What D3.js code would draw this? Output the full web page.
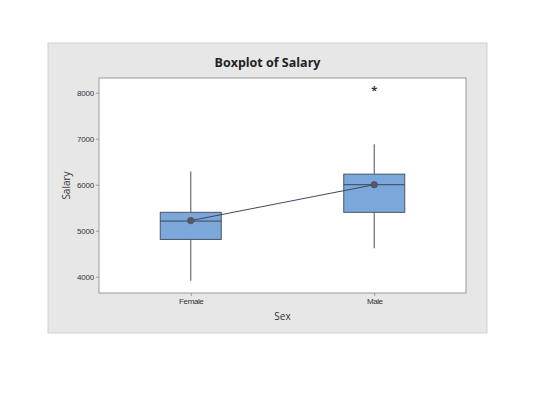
<!DOCTYPE html>
<html>
<head>
<meta charset="utf-8">
<script src="https://cdn.jsdelivr.net/npm/d3@7"></script>
<style>
  html, body { margin: 0; padding: 0; background: #ffffff; }
  svg { display: block; font-family: "Open Sans", "DejaVu Sans", sans-serif; }
</style>
</head>
<body>
<div id="chart"></div>
<script>
(function () {
    'use strict';

    // values
    const categories = ["Female", "Male"];
    const whiskerLow = [3910, 4620];
    const q1 = [4810, 5400];
    const median = [5210, 6000];
    const q3 = [5400, 6230];
    const whiskerHigh = [6290, 6880];
    const means = [5220, 6000];
    const outliers = [[], [8080]];
    const yTicks = [4000, 5000, 6000, 7000, 8000];

    const width = 560, height = 416;
    const panel = { x: 48, y: 43, w: 439, h: 290 };
    const plot = { left: 99, right: 466, top: 78, bottom: 293 };

    const svg = d3.select("#chart").append("svg")
        .attr("width", width)
        .attr("height", height);

    svg.append("rect")
        .attr("x", panel.x).attr("y", panel.y)
        .attr("width", panel.w).attr("height", panel.h)
        .attr("fill", "#e7e7e7")
        .attr("stroke", "#d2d2d2");

    svg.append("rect")
        .attr("x", plot.left).attr("y", plot.top)
        .attr("width", plot.right - plot.left).attr("height", plot.bottom - plot.top)
        .attr("fill", "#ffffff")
        .attr("stroke", "#9a9a9a");

    const x = d3.scalePoint()
        .domain(categories)
        .range([plot.left, plot.right])
        .padding(0.5);

    const y = d3.scaleLinear()
        .domain([3646, 8320])
        .range([plot.bottom, plot.top]);

    const boxW = 61;

    // y axis
    const yAxis = svg.append("g")
        .attr("transform", `translate(${plot.left},0)`)
        .call(d3.axisLeft(y).tickValues(yTicks).tickFormat(d3.format("d"))
            .tickSize(3).tickPadding(2));
    yAxis.select(".domain").remove();
    yAxis.selectAll("line").attr("stroke", "#9a9a9a");
    yAxis.selectAll("text").attr("font-size", 8).attr("fill", "#333")
        .attr("letter-spacing", "-0.2px");

    // x axis
    const xAxis = svg.append("g")
        .attr("transform", `translate(0,${plot.bottom})`)
        .call(d3.axisBottom(x).tickSize(3).tickPadding(2));
    xAxis.select(".domain").remove();
    xAxis.selectAll("line").attr("stroke", "#9a9a9a");
    xAxis.selectAll("text").attr("font-size", 8).attr("fill", "#333")
        .attr("letter-spacing", "-0.4px");

    const g = svg.append("g");

    categories.forEach((c, i) => {
        const cx = x(c);
        // whiskers
        g.append("line")
            .attr("x1", cx).attr("x2", cx)
            .attr("y1", y(whiskerHigh[i])).attr("y2", y(q3[i]))
            .attr("stroke", "#6b6b6b").attr("stroke-width", 1.2);
        g.append("line")
            .attr("x1", cx).attr("x2", cx)
            .attr("y1", y(q1[i])).attr("y2", y(whiskerLow[i]))
            .attr("stroke", "#6b6b6b").attr("stroke-width", 1.2);
        // box
        g.append("rect")
            .attr("x", cx - boxW / 2).attr("y", y(q3[i]))
            .attr("width", boxW).attr("height", y(q1[i]) - y(q3[i]))
            .attr("fill", "#7ba7da")
            .attr("stroke", "#4a5563").attr("stroke-width", 1);
        // median
        g.append("line")
            .attr("x1", cx - boxW / 2).attr("x2", cx + boxW / 2)
            .attr("y1", y(median[i])).attr("y2", y(median[i]))
            .attr("stroke", "#3c4652").attr("stroke-width", 1);
        // outliers
        outliers[i].forEach(v => {
            g.append("text")
                .attr("x", cx).attr("y", y(v) + 5)
                .attr("text-anchor", "middle")
                .attr("font-size", 11)
                .attr("font-weight", "bold")
                .attr("fill", "#333")
                .text("*");
        });
    });

    // mean connect line
    const meanLine = d3.line()
        .x((d, i) => x(categories[i]))
        .y(d => y(d));
    g.append("path")
        .datum(means)
        .attr("d", meanLine)
        .attr("fill", "none")
        .attr("stroke", "#3c4a5c")
        .attr("stroke-width", 1);

    g.selectAll(".mean")
        .data(means)
        .enter()
        .append("circle")
        .attr("class", "mean")
        .attr("cx", (d, i) => x(categories[i]))
        .attr("cy", d => y(d))
        .attr("r", 3.2)
        .attr("fill", "#555a62")
        .attr("stroke", "#3f444b")
        .attr("stroke-width", 0.6);

    // titles
    svg.append("text")
        .attr("x", panel.x + panel.w / 2)
        .attr("y", 67)
        .attr("text-anchor", "middle")
        .attr("font-size", 12.5)
        .attr("font-weight", "bold")
        .attr("fill", "#222")
        .text("Boxplot of Salary");

    svg.append("text")
        .attr("x", (plot.left + plot.right) / 2)
        .attr("y", 320)
        .attr("text-anchor", "middle")
        .attr("font-size", 10)
        .attr("fill", "#333")
        .text("Sex");

    svg.append("text")
        .attr("transform", `translate(70,${(plot.top + plot.bottom) / 2}) rotate(-90)`)
        .attr("text-anchor", "middle")
        .attr("font-size", 10)
        .attr("fill", "#333")
        .text("Salary");
})();
</script>
</body>
</html>
